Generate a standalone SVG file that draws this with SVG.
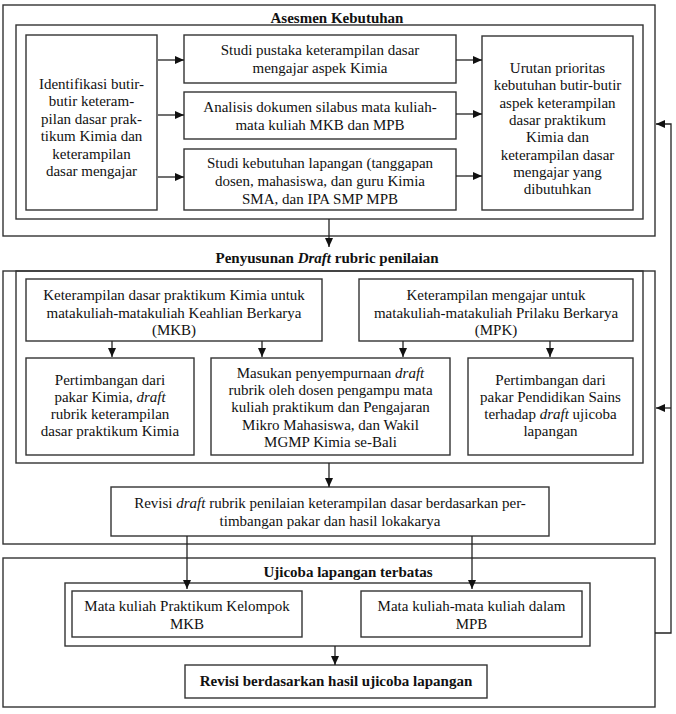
<svg xmlns="http://www.w3.org/2000/svg" width="676" height="714" viewBox="0 0 676 714">
<defs>
<style>
.box{fill:#fff;stroke:#333;stroke-width:1.4}
.frame{fill:none;stroke:#333;stroke-width:1.4}
.t{font-family:"Liberation Serif","Times New Roman",serif;font-size:15px;fill:#111;text-anchor:middle}
.b{font-weight:bold}
.i{font-style:italic}
.c{fill:none;stroke:#222;stroke-width:1.3}
</style>
<marker id="ah" markerUnits="userSpaceOnUse" markerWidth="10" markerHeight="9" refX="9" refY="4" orient="auto">
<path d="M0,0 L9,4 L0,8 z" fill="#111"/>
</marker>
</defs>
<rect width="676" height="714" fill="#fff"/>

<g id="frames">
<rect class="frame" x="3" y="5" width="652" height="231"/>
<rect class="frame" x="16" y="25" width="627" height="194"/>
<rect class="frame" x="3" y="271" width="652" height="273"/>
<rect class="frame" x="16" y="271" width="627" height="192"/>
<rect class="frame" x="3" y="558" width="652" height="149"/>
<rect class="frame" x="65" y="583" width="525" height="63"/>
</g>

<g id="titles">
<text class="t b" x="337" y="23">Asesmen Kebutuhan</text>
<text class="t b" x="327" y="263">Penyusunan <tspan class="i">Draft</tspan> rubric penilaian</text>
<text class="t b" x="348" y="577">Ujicoba lapangan terbatas</text>
</g>

<g id="identifikasi">
<rect class="box" x="26" y="35" width="131" height="175"/>
<text class="t" x="91.5" y="89">Identifikasi butir-</text>
<text class="t" x="91.5" y="106.4">butir keteram-</text>
<text class="t" x="91.5" y="123.8">pilan dasar prak-</text>
<text class="t" x="91.5" y="141.2">tikum Kimia dan</text>
<text class="t" x="91.5" y="158.6">keterampilan</text>
<text class="t" x="91.5" y="176">dasar mengajar</text>
</g>

<g id="studi-pustaka">
<rect class="box" x="184" y="35" width="272" height="48"/>
<text class="t" x="320" y="55">Studi pustaka keterampilan dasar</text>
<text class="t" x="320" y="73">mengajar aspek Kimia</text>
</g>

<g id="analisis">
<rect class="box" x="184" y="92" width="272" height="47"/>
<text class="t" x="320" y="112">Analisis dokumen silabus mata kuliah-</text>
<text class="t" x="320" y="130">mata kuliah MKB dan MPB</text>
</g>

<g id="studi-lapangan">
<rect class="box" x="184" y="149" width="272" height="61"/>
<text class="t" x="320" y="168">Studi kebutuhan lapangan (tanggapan</text>
<text class="t" x="320" y="186">dosen, mahasiswa, dan guru Kimia</text>
<text class="t" x="320" y="204">SMA, dan IPA SMP MPB</text>
</g>

<g id="urutan">
<rect class="box" x="482" y="36" width="151" height="174"/>
<text class="t" x="557.5" y="73">Urutan prioritas</text>
<text class="t" x="557.5" y="90.3">kebutuhan butir-butir</text>
<text class="t" x="557.5" y="107.6">aspek keterampilan</text>
<text class="t" x="557.5" y="124.9">dasar praktikum</text>
<text class="t" x="557.5" y="142.2">Kimia dan</text>
<text class="t" x="557.5" y="159.5">keterampilan dasar</text>
<text class="t" x="557.5" y="176.8">mengajar yang</text>
<text class="t" x="557.5" y="194.1">dibutuhkan</text>
</g>

<g id="mkb">
<rect class="box" x="26" y="279" width="296" height="62"/>
<text class="t" x="174" y="300">Keterampilan dasar praktikum Kimia untuk</text>
<text class="t" x="174" y="317.5">matakuliah-matakuliah Keahlian Berkarya</text>
<text class="t" x="174" y="335">(MKB)</text>
</g>

<g id="mpk">
<rect class="box" x="359" y="279" width="274" height="62"/>
<text class="t" x="496" y="300">Keterampilan mengajar untuk</text>
<text class="t" x="496" y="317.5">matakuliah-matakuliah Prilaku Berkarya</text>
<text class="t" x="496" y="335">(MPK)</text>
</g>

<g id="pakar-kimia">
<rect class="box" x="26" y="358" width="168" height="97"/>
<text class="t" x="110" y="385">Pertimbangan dari</text>
<text class="t" x="110" y="402">pakar Kimia, <tspan class="i">draft</tspan></text>
<text class="t" x="110" y="419">rubrik keterampilan</text>
<text class="t" x="110" y="436">dasar praktikum Kimia</text>
</g>

<g id="masukan">
<rect class="box" x="211" y="358" width="239" height="97"/>
<text class="t" x="330.5" y="378">Masukan penyempurnaan <tspan class="i">draft</tspan></text>
<text class="t" x="330.5" y="395.2">rubrik oleh dosen pengampu mata</text>
<text class="t" x="330.5" y="412.4">kuliah praktikum dan Pengajaran</text>
<text class="t" x="330.5" y="429.6">Mikro Mahasiswa, dan Wakil</text>
<text class="t" x="330.5" y="446.8">MGMP Kimia se-Bali</text>
</g>

<g id="pakar-sains">
<rect class="box" x="468" y="358" width="165" height="97"/>
<text class="t" x="550.5" y="385">Pertimbangan dari</text>
<text class="t" x="550.5" y="402">pakar Pendidikan Sains</text>
<text class="t" x="550.5" y="419">terhadap <tspan class="i">draft</tspan> ujicoba</text>
<text class="t" x="550.5" y="436">lapangan</text>
</g>

<g id="revisi-draft">
<rect class="box" x="111" y="487" width="438" height="49"/>
<text class="t" x="330" y="508">Revisi <tspan class="i">draft</tspan> rubrik penilaian keterampilan dasar berdasarkan per-</text>
<text class="t" x="330" y="526">timbangan pakar dan hasil lokakarya</text>
</g>

<g id="mk-mkb">
<rect class="box" x="72" y="591" width="230" height="46"/>
<text class="t" x="187" y="611">Mata kuliah Praktikum Kelompok</text>
<text class="t" x="187" y="629">MKB</text>
</g>

<g id="mk-mpb">
<rect class="box" x="361" y="591" width="221" height="46"/>
<text class="t" x="471.5" y="611">Mata kuliah-mata kuliah dalam</text>
<text class="t" x="471.5" y="629">MPB</text>
</g>

<g id="revisi-ujicoba">
<rect class="box" x="185" y="665" width="302" height="33"/>
<text class="t b" x="336" y="686">Revisi berdasarkan hasil ujicoba lapangan</text>
</g>

<g id="connectors">
<line class="c" x1="158" y1="60" x2="184" y2="60" marker-end="url(#ah)"/>
<line class="c" x1="158" y1="115" x2="184" y2="115" marker-end="url(#ah)"/>
<line class="c" x1="158" y1="177" x2="184" y2="177" marker-end="url(#ah)"/>
<line class="c" x1="456" y1="60" x2="482" y2="60" marker-end="url(#ah)"/>
<line class="c" x1="456" y1="114" x2="482" y2="114" marker-end="url(#ah)"/>
<line class="c" x1="456" y1="176" x2="482" y2="176" marker-end="url(#ah)"/>
<line class="c" x1="329" y1="219" x2="329" y2="247" marker-end="url(#ah)"/>
<line class="c" x1="112" y1="341" x2="112" y2="357" marker-end="url(#ah)"/>
<line class="c" x1="262" y1="341" x2="262" y2="357" marker-end="url(#ah)"/>
<line class="c" x1="403" y1="341" x2="403" y2="357" marker-end="url(#ah)"/>
<line class="c" x1="550" y1="341" x2="550" y2="357" marker-end="url(#ah)"/>
<line class="c" x1="329" y1="463" x2="329" y2="487" marker-end="url(#ah)"/>
<line class="c" x1="187" y1="536" x2="187" y2="589" marker-end="url(#ah)"/>
<line class="c" x1="472" y1="536" x2="472" y2="589" marker-end="url(#ah)"/>
<line class="c" x1="335" y1="646" x2="335" y2="665" marker-end="url(#ah)"/>
<polyline class="c" points="655,633 671,633 671,124 656,124" marker-end="url(#ah)"/>
<line class="c" x1="671" y1="408" x2="656" y2="408" marker-end="url(#ah)"/>
</g>
</svg>
